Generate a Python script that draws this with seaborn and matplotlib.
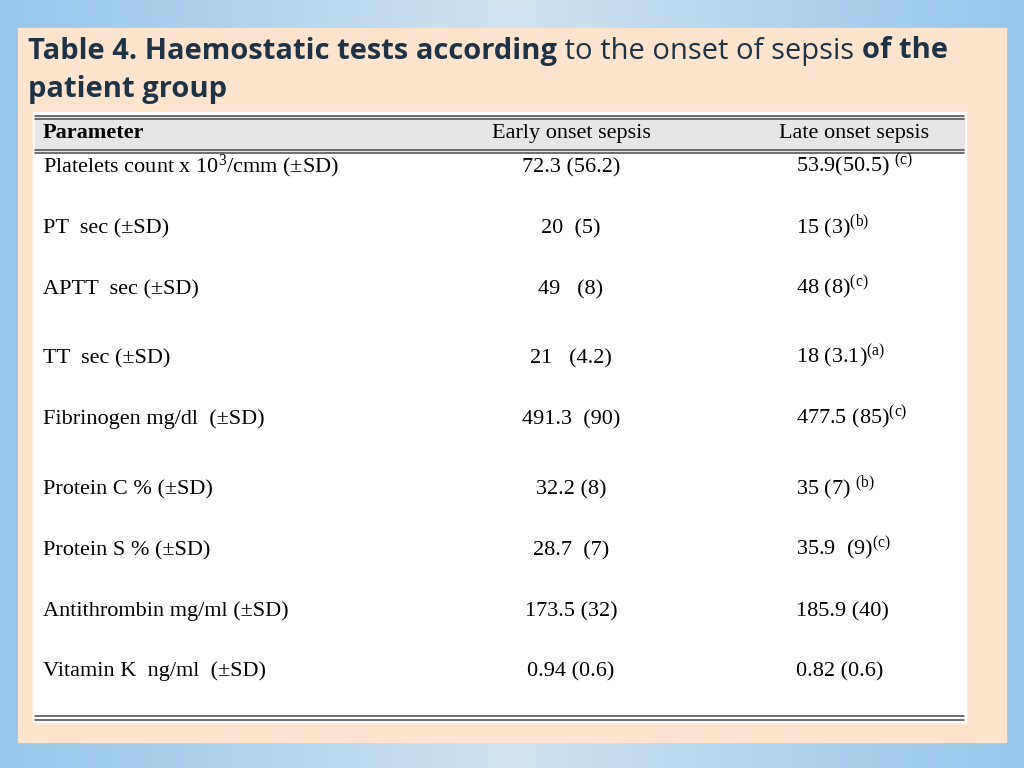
import matplotlib
matplotlib.use("Agg")
import matplotlib.pyplot as plt
import seaborn as sns
import numpy as np

sns.set_theme(style="white")
plt.rcParams["mathtext.fontset"] = "custom"
plt.rcParams["mathtext.rm"] = "Liberation Serif"
plt.rcParams["mathtext.it"] = "Liberation Serif"

parameters = ["Platelets count x 10$^{3}$/cmm (±SD)", "PT  sec (±SD)", "APTT  sec (±SD)",
              "TT  sec (±SD)", "Fibrinogen mg/dl  (±SD)", "Protein C % (±SD)",
              "Protein S % (±SD)", "Antithrombin mg/ml (±SD)", "Vitamin K  ng/ml  (±SD)"]
early = ["72.3 (56.2)", "20  (5)", "49   (8)", "21   (4.2)", "491.3  (90)",
         "32.2 (8)", "28.7  (7)", "173.5 (32)", "0.94 (0.6)"]
late = [r"53.9(50.5) $^{\mathrm{(c)}}$", r"15 (3)$^{\mathrm{(b)}}$", r"48 (8)$^{\mathrm{(c)}}$",
        r"18 (3.1)$^{\mathrm{(a)}}$", r"477.5 (85)$^{\mathrm{(c)}}$", r"35 (7) $^{\mathrm{(b)}}$",
        r"35.9  (9)$^{\mathrm{(c)}}$", "185.9 (40)", "0.82 (0.6)"]
row_y = [166, 227, 288, 357, 418, 488, 549, 610, 670]

fig = plt.figure(figsize=(10.24, 7.68), dpi=100)
ax = fig.add_axes([0, 0, 1, 1])
ax.set_xlim(0, 1024)
ax.set_ylim(768, 0)
ax.axis("off")

# background gradient
grad = np.linspace(0, 1, 256)[None, :]
ax.imshow(np.abs(grad - 0.5) * 2, cmap=sns.light_palette("#8fc3ea", as_cmap=True),
          extent=[0, 1024, 768, 0], aspect="auto", vmin=-0.5, vmax=1.1)
ax.add_patch(plt.Rectangle((18, 28), 988, 714, color="#fde4cf"))
ax.add_patch(plt.Rectangle((33, 112), 933, 610, color="white"))
ax.add_patch(plt.Rectangle((35, 117), 929, 34, color="#e6e6e6"))
for y in [116, 119, 150, 153, 716, 720]:
    ax.plot([35, 964], [y, y], color="#555555", lw=1.2)

# title with mixed weights
fig.canvas.draw()
r = fig.canvas.get_renderer()
x = 28
for txt, w in [("Table 4. Haemostatic tests according", "bold"),
               (" to the onset of sepsis ", "normal"), ("of the", "bold")]:
    t = ax.text(x, 51, txt, fontsize=21, fontweight=w, family="Open Sans",
                color="#1f3347", va="center")
    x += t.get_window_extent(r).width
ax.text(28, 89, "patient group", fontsize=21, fontweight="bold", family="Open Sans",
        color="#1f3347", va="center")

hdr = dict(fontsize=16, family="Liberation Serif", va="baseline", color="black")
ax.text(43, 138, "Parameter", fontweight="bold", **hdr)
ax.text(571, 138, "Early onset sepsis", ha="center", **hdr)
ax.text(854, 138, "Late onset sepsis", ha="center", **hdr)

for p, e, l, y in zip(parameters, early, late, row_y):
    ax.text(43, y + 6, p, **hdr)
    ax.text(571, y + 6, e, ha="center", **hdr)
    ax.text(796, y + 6, l, ha="left", **hdr)

fig.savefig("out.png", dpi=100)
